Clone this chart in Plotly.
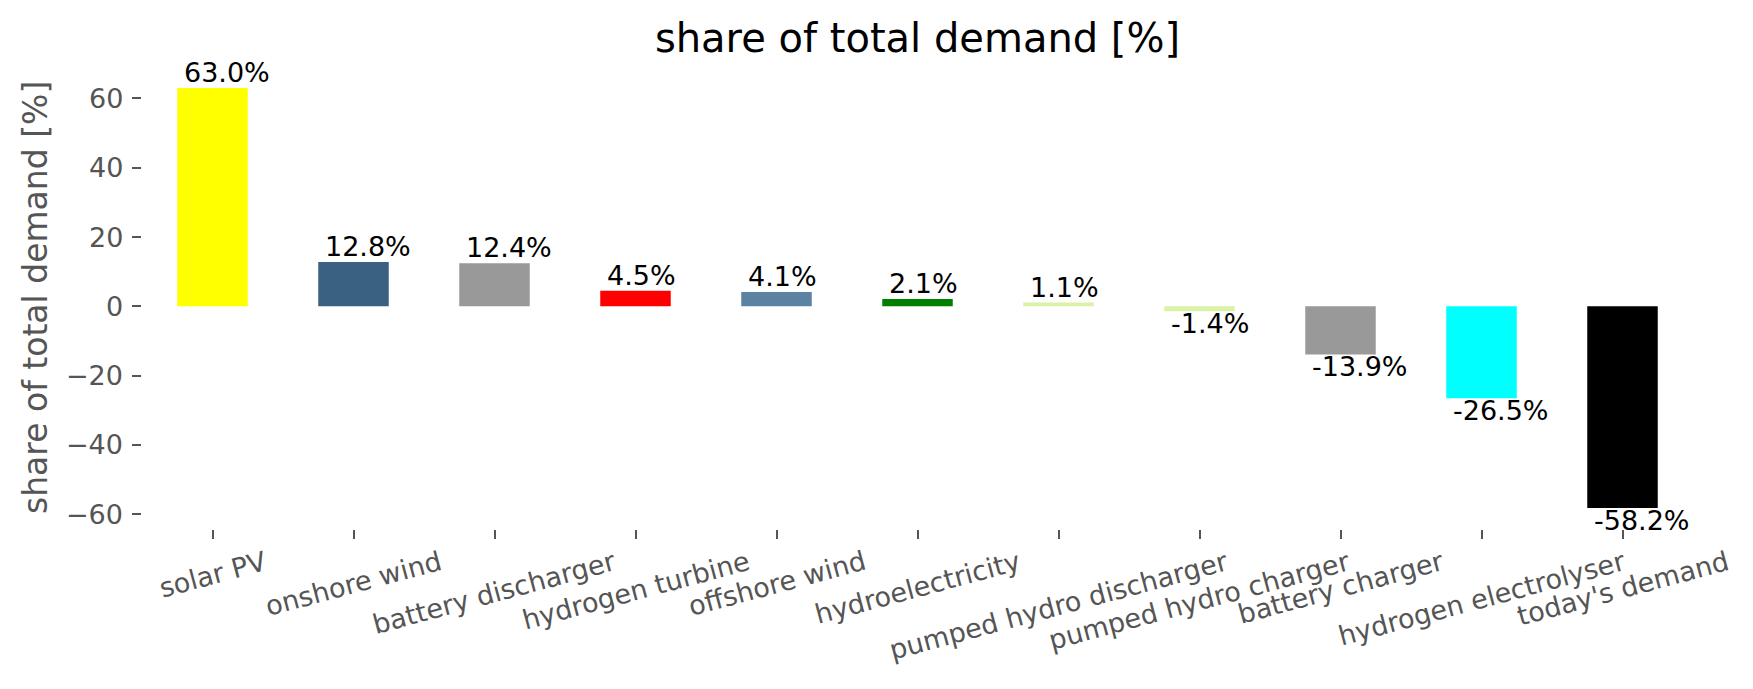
import plotly.graph_objects as go

categories = ["solar PV", "onshore wind", "battery discharger", "hydrogen turbine",
              "offshore wind", "hydroelectricity", "pumped hydro discharger",
              "pumped hydro charger", "battery charger", "hydrogen electrolyser",
              "today's demand"]
values = [63.0, 12.8, 12.4, 4.5, 4.1, 2.1, 1.1, -1.4, -13.9, -26.5, -58.2]
colors = ["#FFFF00", "#3B6182", "#999999", "#FF0000", "#5C82A2", "#008000",
          "#D9F2A7", "#D9F2A7", "#999999", "#00FFFF", "#000000"]
y_ticks = [-60, -40, -20, 0, 20, 40, 60]
title_text = "share of total demand [%]"

FONT = "DejaVu Sans"
GREY = "#555555"
W, H = 1753, 689
L, R, T, B = 142, 60, 67, 160

xs = list(range(len(categories)))
ymin, ymax = min(values + [0]), max(values + [0])
pad = 0.05 * (ymax - ymin)

fig = go.Figure()
fig.add_trace(go.Bar(x=xs, y=values, width=0.5, marker=dict(color=colors, line=dict(width=0)),
                     showlegend=False, hoverinfo="skip"))

annotations = []
# value labels
for i, v in enumerate(values):
    annotations.append(dict(
        x=i - 0.2, y=v, xref="x", yref="y", text=f"{v:.1f}%", showarrow=False,
        xanchor="left", yanchor="bottom" if v >= 0 else "top",
        yshift=0 if v >= 0 else 3,
        font=dict(family=FONT, size=27, color="black"), borderpad=0, borderwidth=0))
# rotated category labels
for i, c in enumerate(categories):
    annotations.append(dict(
        x=i, y=0, xref="x", yref="paper", text=c, showarrow=False, textangle=-15,
        xanchor="center", yanchor="top", yshift=-16,
        font=dict(family=FONT, size=27, color=GREY), borderpad=0, borderwidth=0))
# y tick labels
for t in y_ticks:
    annotations.append(dict(
        x=0, y=t, xref="paper", yref="y", text=f"{t}".replace("-", "\u2212"),
        showarrow=False, xanchor="right", yanchor="middle", xshift=-19,
        font=dict(family=FONT, size=27, color=GREY), borderpad=0, borderwidth=0))
# y axis title
annotations.append(dict(
    x=(35 - L) / (W - L - R), y=0.5, xref="paper", yref="paper", text=title_text,
    showarrow=False, textangle=-90, xanchor="center", yanchor="middle",
    font=dict(family=FONT, size=33, color=GREY), borderpad=0, borderwidth=0))

fig.update_layout(
    width=W, height=H,
    margin=dict(l=L, r=R, t=T, b=B, pad=0),
    paper_bgcolor="white", plot_bgcolor="white",
    title=dict(text=title_text, x=(L + (W - L - R) / 2) / W, xanchor="center",
               y=1 - 38 / H, yanchor="middle",
               font=dict(family=FONT, size=40, color="black")),
    xaxis=dict(range=[-0.5, len(categories) - 0.5], tickvals=xs, showticklabels=False,
               ticks="outside", ticklen=9, tickwidth=2, tickcolor=GREY,
               showgrid=False, zeroline=False, showline=False),
    yaxis=dict(range=[ymin - pad, ymax + pad], tickvals=y_ticks, showticklabels=False,
               ticks="outside", ticklen=9, tickwidth=2, tickcolor=GREY,
               showgrid=False, zeroline=False, showline=False),
    annotations=annotations,
)

fig.write_html("out.html", config={"displayModeBar": False},
               post_script="document.body.style.margin='0px';document.body.style.overflow='hidden';")
